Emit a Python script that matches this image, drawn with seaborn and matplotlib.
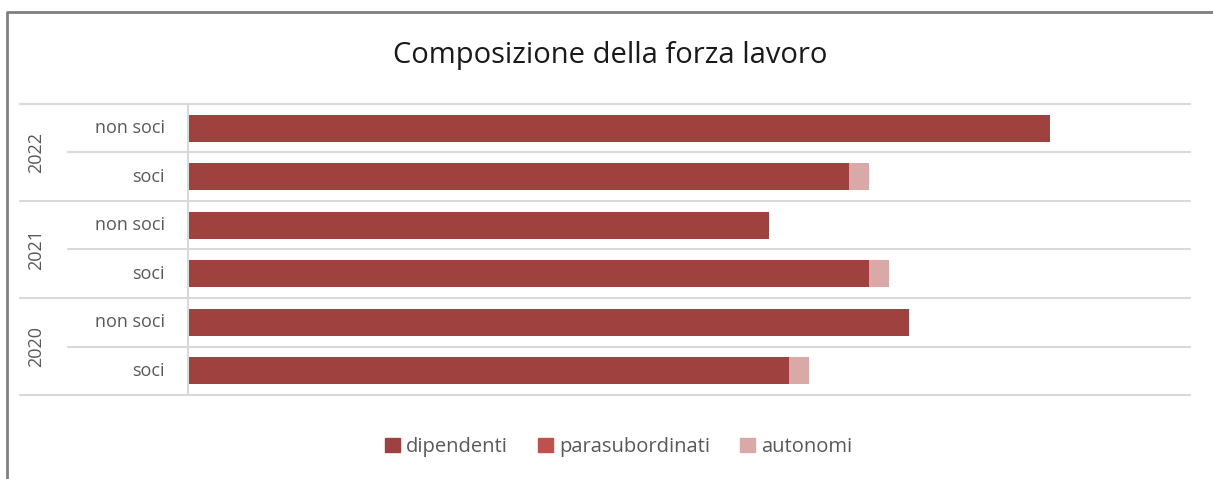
import matplotlib
matplotlib.use("Agg")
import matplotlib.pyplot as plt
import seaborn as sns
import pandas as pd
from matplotlib.lines import Line2D
from matplotlib.patches import Patch

# dati (dall'alto verso il basso)
anni = ["2022", "2022", "2021", "2021", "2020", "2020"]
gruppi = ["non soci", "soci", "non soci", "soci", "non soci", "soci"]
dipendenti = [215, 165, 145, 170, 180, 150]
parasubordinati = [0, 0, 0, 0, 0, 0]
autonomi = [0, 5, 0, 5, 0, 5]

col_dip = "#9E413F"
col_para = "#C0504D"
col_aut = "#D9A9A8"
grigio = "#595959"

df = pd.DataFrame({"anno": anni, "gruppo": gruppi,
                   "dipendenti": dipendenti,
                   "parasubordinati": parasubordinati,
                   "autonomi": autonomi})
df["cat"] = df["anno"] + " " + df["gruppo"]
df["t_para"] = df["dipendenti"] + df["parasubordinati"]
df["t_aut"] = df["t_para"] + df["autonomi"]

sns.set_style("white")
plt.rcParams["font.family"] = ["Open Sans", "DejaVu Sans"]

fig = plt.figure(figsize=(12.13, 4.79), dpi=100)
W, H = 1213, 479
ax = fig.add_axes([188 / W, 1 - 395 / H, (1190 - 188) / W, (395 - 104) / H])

# barre impilate: disegno i totali cumulati dal più grande
for col, c in [("t_aut", col_aut), ("t_para", col_para), ("dipendenti", col_dip)]:
    sns.barplot(data=df, x=col, y="cat", color=c, width=0.56, saturation=1,
                linewidth=0, ax=ax, orient="h")

ax.set_xlim(0, 250)
ax.set_ylim(len(df) - 0.5, -0.5)
ax.set_xlabel("")
ax.set_ylabel("")
ax.set_xticks([])
ax.set_yticks(range(len(df)))
ax.set_yticklabels([])
ax.tick_params(left=False)
for s in ["top", "right", "bottom"]:
    ax.spines[s].set_visible(False)
ax.spines["left"].set_color("#D9D9D9")
ax.spines["left"].set_linewidth(1.5)

# linee di separazione
tr = ax.get_yaxis_transform()
for i in range(len(df) + 1):
    y = i - 0.5
    x0 = (20 - 188) / (1190 - 188) if i % 2 == 0 else (68 - 188) / (1190 - 188)
    ax.plot([x0, 1], [y, y], transform=tr, color="#D9D9D9", lw=1.5,
            clip_on=False, zorder=0)

# etichette categorie e anni
for i, g in enumerate(gruppi):
    ax.text((165 - 188) / (1190 - 188), i, g, transform=tr, ha="right",
            va="center", fontsize=13, color=grigio)
for k in range(0, len(anni), 2):
    ax.text((36 - 188) / (1190 - 188), k + 0.5, anni[k], transform=tr,
            rotation=90, ha="center", va="center", fontsize=13, color=grigio)

fig.text(0.503, 1 - 55 / H, "Composizione della forza lavoro", ha="center",
         va="center", fontsize=21, color="#1A1A1A")

handles = [Patch(color=col_dip), Patch(color=col_para), Patch(color=col_aut)]
fig.legend(handles, ["dipendenti", "parasubordinati", "autonomi"], ncol=3,
           loc="center", bbox_to_anchor=(0.51, 1 - 447 / H), frameon=False,
           fontsize=14.5, handlelength=0.75, handleheight=0.75, handletextpad=0.3,
           columnspacing=1.5, labelcolor=grigio)

# bordo del grafico
fig.add_artist(Line2D([7 / W, 7 / W, 1], [0, 1 - 12 / H, 1 - 12 / H],
                      transform=fig.transFigure, color="#808080", lw=2))

fig.savefig("out.png", dpi=100)
